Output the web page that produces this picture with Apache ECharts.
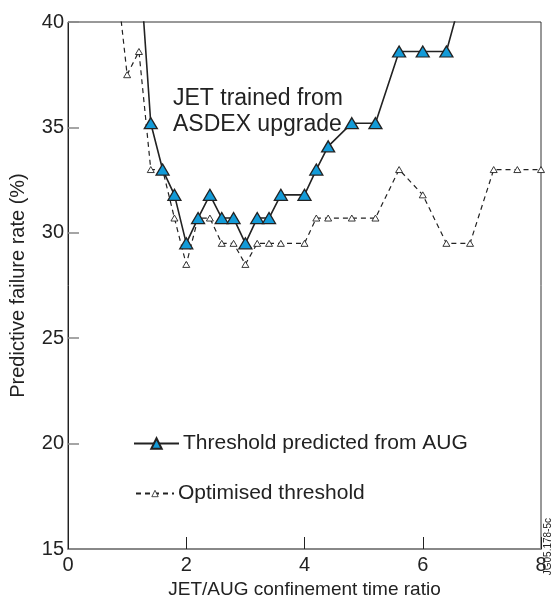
<!DOCTYPE html>
<html>
<head>
<meta charset="utf-8">
<script src="https://cdn.jsdelivr.net/npm/echarts@6/dist/echarts.min.js"></script>
<style>
  html, body { margin: 0; padding: 0; background: #fff; }
  #chart { width: 553px; height: 599px; }
</style>
</head>
<body>
<div id="chart"></div>
<script>
// Confinement time ratio (JET/AUG) for each threshold scan
const predictedX = [1.2, 1.4, 1.6, 1.8, 2.0, 2.2, 2.4, 2.6, 2.8, 3.0, 3.2, 3.4, 3.6, 4.0, 4.2, 4.4, 4.8, 5.2, 5.6, 6.0, 6.4, 6.8];
// Predictive failure rate (%) with the threshold predicted from AUG
const predictedRate = [43.3, 35.2, 33.0, 31.8, 29.5, 30.7, 31.8, 30.7, 30.7, 29.5, 30.7, 30.7, 31.8, 31.8, 33.0, 34.1, 35.2, 35.2, 38.6, 38.6, 38.6, 42.7];

const optimisedX = [0.8, 1.0, 1.2, 1.4, 1.6, 1.8, 2.0, 2.2, 2.4, 2.6, 2.8, 3.0, 3.2, 3.4, 3.6, 4.0, 4.2, 4.4, 4.8, 5.2, 5.6, 6.0, 6.4, 6.8, 7.2, 7.6, 8.0];
// Predictive failure rate (%) with the optimised threshold
const optimisedRate = [42.6, 37.5, 38.6, 33.0, 33.0, 30.7, 28.5, 30.7, 30.7, 29.5, 29.5, 28.5, 29.5, 29.5, 29.5, 29.5, 30.7, 30.7, 30.7, 30.7, 33.0, 31.8, 29.5, 29.5, 33.0, 33.0, 33.0];

const seriesNames = ['Threshold predicted from AUG', 'Optimised threshold'];
const xTicks = [0, 2, 4, 6, 8];
const yTicks = [15, 20, 25, 30, 35, 40];

const pair = (xs, ys) => xs.map((x, i) => [x, ys[i]]);

const FONT = 'Liberation Sans, Arial, sans-serif';
const legendText = { fontFamily: FONT, fontSize: 21, color: '#222' };
const chart = echarts.init(document.getElementById('chart'), null, { renderer: 'canvas' });

chart.setOption({
  backgroundColor: '#fff',
  animation: false,
  grid: {
    left: 68, right: 12, top: 22, bottom: 50,
    containLabel: false,
    outerBoundsMode: 'none',
    show: true, borderColor: '#333', borderWidth: 1
  },
  xAxis: {
    type: 'value',
    min: xTicks[0], max: xTicks[xTicks.length - 1], interval: 2,
    name: 'JET/AUG confinement time ratio',
    nameLocation: 'middle', nameGap: 23,
    nameTextStyle: { fontFamily: FONT, fontSize: 19, color: '#222' },
    axisLine: { lineStyle: { color: '#888', width: 2 } },
    axisTick: { inside: true, length: 12, lineStyle: { color: '#222', width: 1 } },
    axisLabel: { fontFamily: FONT, fontSize: 20, color: '#222', margin: 6 },
    splitLine: { show: false }
  },
  yAxis: {
    type: 'value',
    min: yTicks[0], max: yTicks[yTicks.length - 1], interval: 5,
    name: 'Predictive failure rate (%)',
    nameLocation: 'middle', nameGap: 40, nameRotate: 90,
    nameTextStyle: { fontFamily: FONT, fontSize: 20, color: '#222' },
    axisLine: { lineStyle: { color: '#222', width: 1 } },
    axisTick: { inside: true, length: 11, lineStyle: { color: '#888', width: 1.5 } },
    axisLabel: { fontFamily: FONT, fontSize: 20, color: '#222', margin: 4 },
    splitLine: { show: false }
  },
  legend: [
    {
      left: 133, top: 433, padding: 0,
      itemWidth: 45, itemHeight: 13, itemGap: 0,
      textStyle: Object.assign({ padding: [0, 0, 0, -1] }, legendText),
      data: [seriesNames[0]]
    },
    {
      left: 135, top: 483, padding: 0,
      itemWidth: 38, itemHeight: 8, itemGap: 0,
      itemStyle: { borderWidth: 0.8 },
      textStyle: Object.assign({ padding: [0, 0, 0, -1] }, legendText),
      data: [seriesNames[1]]
    }
  ],
  series: [
    {
      name: seriesNames[1],
      type: 'line',
      data: pair(optimisedX, optimisedRate),
      clip: true,
      z: 2,
      symbol: 'triangle',
      symbolSize: [7, 6],
      lineStyle: { color: '#222', width: 1.2, type: [5, 4] },
      itemStyle: { color: '#fff', borderColor: '#222', borderWidth: 0.9 }
    },
    {
      name: seriesNames[0],
      type: 'line',
      data: pair(predictedX, predictedRate),
      clip: true,
      z: 3,
      symbol: 'triangle',
      symbolSize: [13, 11],
      lineStyle: { color: '#222', width: 1.6 },
      itemStyle: { color: '#139bd8', borderColor: '#222', borderWidth: 1.3 }
    }
  ],
  graphic: [
    {
      type: 'text', left: 173, top: 86,
      style: {
        text: 'JET trained from\nASDEX upgrade',
        font: '23px ' + FONT, fill: '#222', lineHeight: 26
      }
    },
    {
      type: 'text', left: 543, top: 518, rotation: Math.PI / 2,
      style: { text: 'JG05.178-5c', font: '10px ' + FONT, fill: '#222' }
    }
  ]
});
</script>
</body>
</html>
